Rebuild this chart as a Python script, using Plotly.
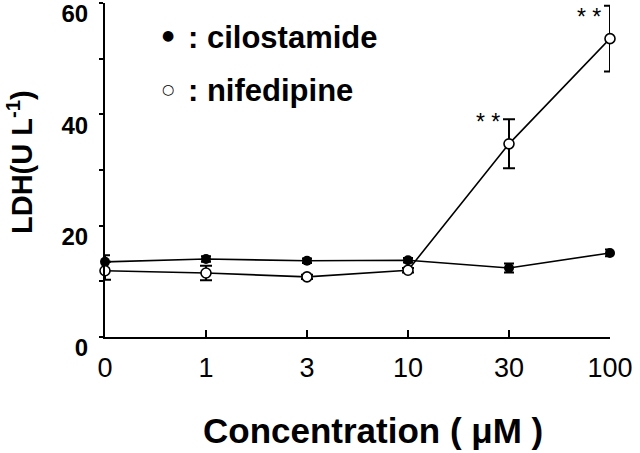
import plotly.graph_objects as go

# concentration categories (uM), evenly spaced on the axis
conc_labels = ["0", "1", "3", "10", "30", "100"]
conc_pos = [0, 1, 2, 3, 4, 5]

# LDH (U/L)
cilostamide = [13.5, 14.0, 13.7, 13.8, 12.4, 15.1]
cilostamide_err = [1.2, 0.5, 0.4, 0.4, 0.8, 0.6]
nifedipine = [11.9, 11.5, 10.8, 12.0, 34.7, 53.6]
nifedipine_err = [1.6, 1.3, 0.4, 0.4, 4.4, 5.9]

# significance marks (index, text)
sig_idx = [4, 5]
sig_text = ["* *", "* *"]

FONT = "Liberation Sans, Arial, sans-serif"

fig = go.Figure()

fig.add_trace(go.Scatter(
    x=conc_pos, y=cilostamide, mode="lines+markers", cliponaxis=False,
    line=dict(color="black", width=1.6),
    marker=dict(symbol="circle", size=10, color="black"),
    error_y=dict(type="data", array=cilostamide_err, color="black", thickness=2, width=5),
    showlegend=False,
))
fig.add_trace(go.Scatter(
    x=conc_pos, y=nifedipine, mode="lines+markers", cliponaxis=False,
    line=dict(color="black", width=1.6),
    marker=dict(symbol="circle", size=10, color="white", line=dict(color="black", width=1.6)),
    error_y=dict(type="data", array=nifedipine_err, color="black", thickness=2, width=6),
    showlegend=False,
))

annotations = []
for i, t in zip(sig_idx, sig_text):
    annotations.append(dict(
        x=conc_pos[i], y=nifedipine[i], text=t, showarrow=False,
        xanchor="center", yanchor="middle",
        xshift=-21, yshift=22, font=dict(family=FONT, size=23, color="black"),
    ))

# legend drawn as text; positions given in pixels from top-left, converted below
annotations += [
    dict(x=168, y=35, text="●", font=dict(family="DejaVu Sans", size=14, color="black")),
    dict(x=168, y=89, text="○", font=dict(family="DejaVu Sans", size=14, color="black")),
    dict(x=186, y=37, text=": cilostamide", xanchor="left",
         font=dict(family=FONT, size=31, color="black", weight="bold")),
    dict(x=186, y=90, text=": nifedipine", xanchor="left",
         font=dict(family=FONT, size=31, color="black", weight="bold")),
    dict(x=373, y=430, text="Concentration ( μM )",
         font=dict(family=FONT, size=35, color="black", weight="bold")),
    dict(x=20, y=162, text="LDH(U L<sup>-1</sup>)", textangle=-90,
         font=dict(family=FONT, size=29, color="black", weight="bold")),
]

# convert pixel coords to paper fractions of the plot area
L, R, T, B = 105, 30, 3, 116
pw, ph = 640 - L - R, 453 - T - B
for a in annotations[len(sig_idx):]:
    a["xref"] = "paper"
    a["yref"] = "paper"
    a["x"] = (a["x"] - L) / pw
    a["y"] = (453 - a["y"] - B) / ph
    a["showarrow"] = False
    a.setdefault("xanchor", "center")
    a["yanchor"] = "middle"

fig.update_layout(
    width=640, height=453,
    margin=dict(l=L, r=R, t=T, b=B, autoexpand=False),
    plot_bgcolor="white", paper_bgcolor="white",
    annotations=annotations,
    xaxis=dict(
        range=[0, 5], tickvals=conc_pos, ticktext=conc_labels, automargin=False,
        showline=True, linecolor="black", linewidth=2, showgrid=False, zeroline=False,
        ticks="inside", ticklen=7, tickwidth=2, tickcolor="black",
        tickfont=dict(family=FONT, size=27, color="black"),
        ticklabelstandoff=6, ticklabeloverflow="allow",
    ),
    yaxis=dict(
        range=[0, 60], tickvals=[0, 10, 20, 30, 40, 50, 60], automargin=False,
        ticktext=["0", "", "20", "", "40", "", "60"],
        showline=True, linecolor="black", linewidth=2, showgrid=False, zeroline=False,
        ticks="outside", ticklen=4, tickwidth=2, tickcolor="black",
        tickfont=dict(family=FONT, size=24, color="black", weight="bold"),
        ticklabelstandoff=6, ticklabelshift=11, ticklabeloverflow="allow",
    ),
)

# drop the browser's default page margin so the figure sits at the window corner
fig.write_html("out.html", config={"displayModeBar": False},
               post_script="document.body.style.margin='0';")
